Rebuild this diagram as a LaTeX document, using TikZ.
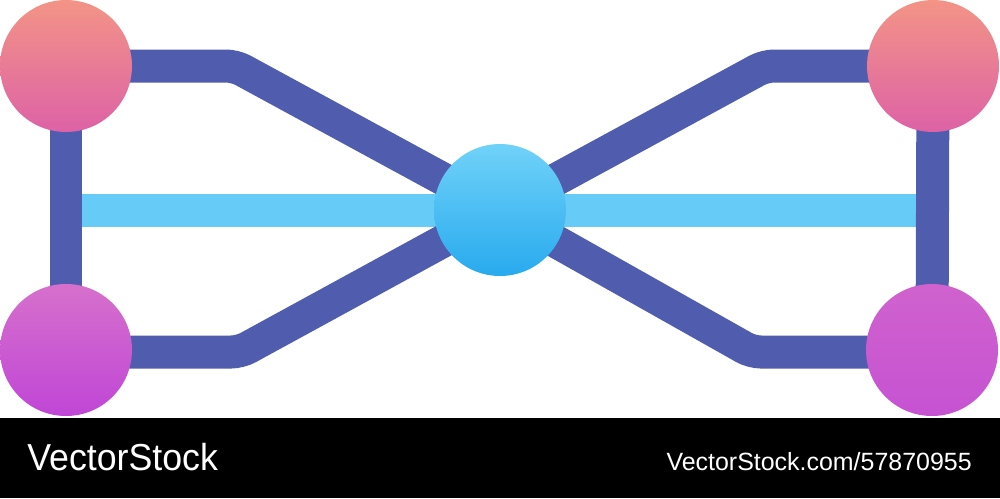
\documentclass[tikz,border=0pt]{standalone}
\usepackage{fontspec}
\usepackage{tikz}
\usetikzlibrary{positioning, backgrounds, calc}
\newfontfamily\bandfont{Liberation Sans}
\definecolor{netblue}{RGB}{80,92,173}
\definecolor{linkcyan}{RGB}{102,204,247}
\definecolor{peachtop}{RGB}{243,148,134}
\definecolor{peachbot}{RGB}{221,98,166}
\definecolor{violettop}{RGB}{214,112,204}
\definecolor{violetbot}{RGB}{192,70,214}
\definecolor{magtop}{RGB}{208,98,206}
\definecolor{magbot}{RGB}{198,82,210}
\definecolor{hubtop}{RGB}{112,210,248}
\definecolor{hubbot}{RGB}{40,170,238}
\tikzset{
  peach/.style={top color=peachtop, bottom color=peachbot},
  violet/.style={top color=violettop, bottom color=violetbot},
  magenta/.style={top color=magtop, bottom color=magbot},
  hubfill/.style={top color=hubtop, bottom color=hubbot},
}

\begin{document}
\begin{tikzpicture}[
  x=0.02cm,y=-0.02cm,
  dot/.style={
    circle, draw=none, inner sep=0pt,
    minimum size=2.64cm
  },
  wire/.style={line width=0.66cm, draw=netblue, rounded corners=5pt},
  link/.style={line width=0.66cm, draw=linkcyan},
  band/.style={font=\bandfont, text=white, inner sep=0pt}
]
\useasboundingbox (0,0) rectangle (1000,498);

% ---- End points and hub ----
\node[dot, peach]   (tl)  at (66,66)   {};
\node[dot, violet]  (bl)  at (66,350)  {};
\node[dot, peach]   (tr)  at (933,66)  {};
\node[dot, magenta] (br)  at (932,350) {};
\node[dot, hubfill] (hub) at (500,210) {};

% ---- Bends of the outer wires ----
\coordinate (tlbend) at (235,66);
\coordinate (blbend) at (240,352);
\coordinate (trbend) at (765,66);
\coordinate (brbend) at (752,352);
\coordinate (lmid) at (66,210);
\coordinate (rmid) at (933,210);

% ---- Wires behind the dots ----
\begin{scope}[on background layer]
  \draw[link] (lmid) -- (rmid);
  \draw[wire] (tl.center) -- (bl.center);
  \draw[wire] (tr.center) -- (br.center);
  \draw[wire] (tl.center) -- (tlbend) -- (hub.center);
  \draw[wire] (bl.center |- blbend) -- (blbend) -- (hub.center);
  \draw[wire] (tr.center) -- (trbend) -- (hub.center);
  \draw[wire] (br.center |- brbend) -- (brbend) -- (hub.center);
\end{scope}

% ---- Footer band ----
\fill[black] (0,418) rectangle (1000,498);
\node[band, anchor=base west, xscale=0.95, font=\bandfont\fontsize{21.4}{24}\selectfont]
  (brand) at (27,470) {VectorStock};
\node[band, anchor=base east, font=\bandfont\fontsize{14.2}{16}\selectfont]
  (ref) at (972,470) {VectorStock.com/57870955};

\end{tikzpicture}
\end{document}
